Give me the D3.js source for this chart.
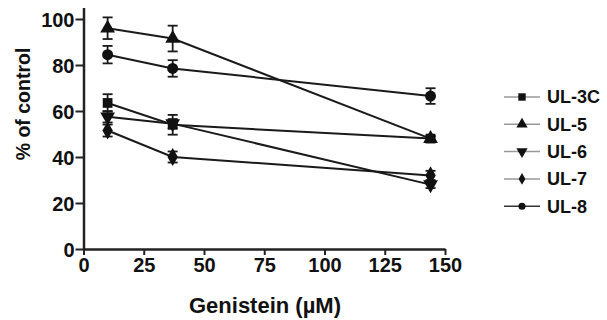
<!DOCTYPE html>
<html>
<head>
<meta charset="utf-8">
<script src="https://d3js.org/d3.v7.min.js"></script>
<style>
body { margin: 0; background: #fff; }
text { font-family: "Liberation Sans", Arial, sans-serif; font-weight: bold; fill: #111; }
</style>
</head>
<body>
<svg width="607" height="320"></svg>
<script>
// data
var doses = [10, 37, 144];
var seriesNames = ["UL-3C", "UL-5", "UL-6", "UL-7", "UL-8"];
var ul3c = [63.5, 54, 48];
var ul5 = [96, 91.5, 48];
var ul6 = [57.5, 54.5, 28];
var ul7 = [51.5, 40, 32];
var ul8 = [84.5, 78.5, 66.5];
var ul3cErr = [3.8, 4.3, 1];
var ul5Err = [4.7, 5.6, 1];
var ul6Err = [2.5, 2, 1.5];
var ul7Err = [2.6, 2.4, 2];
var ul8Err = [3.8, 3.6, 3.4];
var xTicks = [0, 25, 50, 75, 100, 125, 150];
var yTicks = [0, 20, 40, 60, 80, 100];

var values = [ul3c, ul5, ul6, ul7, ul8];
var errors = [ul3cErr, ul5Err, ul6Err, ul7Err, ul8Err];
var symbols = [d3.symbolSquare, d3.symbolTriangle, "down", d3.symbolDiamond, d3.symbolCircle];

var svg = d3.select("svg");
var xs = d3.scaleLinear().domain([0, 150]).range([83.5, 445]);
var ys = d3.scaleLinear().domain([0, 105]).range([249, 7.5]);

function marker(sel, i, size) {
  var s = symbols[i];
  if (s === "down") {
    sel.attr("d", d3.symbol().type(d3.symbolTriangle).size(size)())
       .attr("transform", function() { return d3.select(this).attr("transform") + " rotate(180)"; });
  } else {
    sel.attr("d", d3.symbol().type(s).size(size)());
  }
}

// axes
var xAxis = svg.append("g").attr("transform", "translate(0," + ys(0) + ")")
  .call(d3.axisBottom(xs).tickValues(xTicks).tickSize(6).tickPadding(3).tickSizeOuter(0));
var yAxis = svg.append("g").attr("transform", "translate(" + xs(0) + ",0)")
  .call(d3.axisLeft(ys).tickValues(yTicks).tickSize(8).tickPadding(1).tickSizeOuter(0));
[xAxis, yAxis].forEach(function(a) {
  a.select(".domain").attr("stroke", "#222").attr("stroke-width", 2.5);
  a.selectAll(".tick line").attr("stroke", "#222").attr("stroke-width", 2);
  a.selectAll(".tick text").attr("font-size", 20).attr("fill", "#111")
    .attr("font-family", "Liberation Sans, Arial, sans-serif").attr("font-weight", "bold");
});
yAxis.selectAll(".tick text").attr("dy", "0.36em");

svg.append("text").attr("x", 265).attr("y", 313).attr("text-anchor", "middle")
  .attr("font-size", 22).text("Genistein (µM)");
svg.append("text").attr("transform", "translate(30,104) rotate(-90)")
  .attr("text-anchor", "middle").attr("font-size", 19.5).text("% of control");

// series (drawn last-to-first so UL-3C sits on top)
var line = d3.line().x(function(d) { return xs(d[0]); }).y(function(d) { return ys(d[1]); });
d3.range(values.length).reverse().forEach(function(i) {
  var v = values[i];
  var pts = doses.map(function(x, j) { return [x, v[j], errors[i][j]]; });
  var g = svg.append("g");
  g.append("path").attr("d", line(pts)).attr("fill", "none")
    .attr("stroke", "#1a1a1a").attr("stroke-width", 2);
  pts.forEach(function(p) {
    var x = xs(p[0]), y0 = ys(p[1] - p[2]), y1 = ys(p[1] + p[2]);
    g.append("line").attr("x1", x).attr("x2", x).attr("y1", y0).attr("y2", y1)
      .attr("stroke", "#1a1a1a").attr("stroke-width", 1.8);
    [y0, y1].forEach(function(yy) {
      g.append("line").attr("x1", x - 5).attr("x2", x + 5).attr("y1", yy).attr("y2", yy)
        .attr("stroke", "#1a1a1a").attr("stroke-width", 1.8);
    });
    g.append("path").attr("transform", "translate(" + x + "," + ys(p[1]) + ")")
      .attr("fill", "#111").call(marker, i, 95);
  });
});

// legend
var leg = svg.append("g");
seriesNames.forEach(function(n, i) {
  var y = 97 + i * 27.3;
  leg.append("line").attr("x1", 504).attr("x2", 540).attr("y1", y).attr("y2", y)
    .attr("stroke", i === 4 ? "#333" : "#999").attr("stroke-width", 1.5);
  leg.append("path").attr("transform", "translate(522," + y + ")")
    .attr("fill", "#111").call(marker, i, i === 3 || i === 4 ? 40 : 55);
  leg.append("text").attr("x", 547).attr("y", y).attr("dy", "0.36em")
    .attr("font-size", 18).text(n);
});
</script>
</body>
</html>
